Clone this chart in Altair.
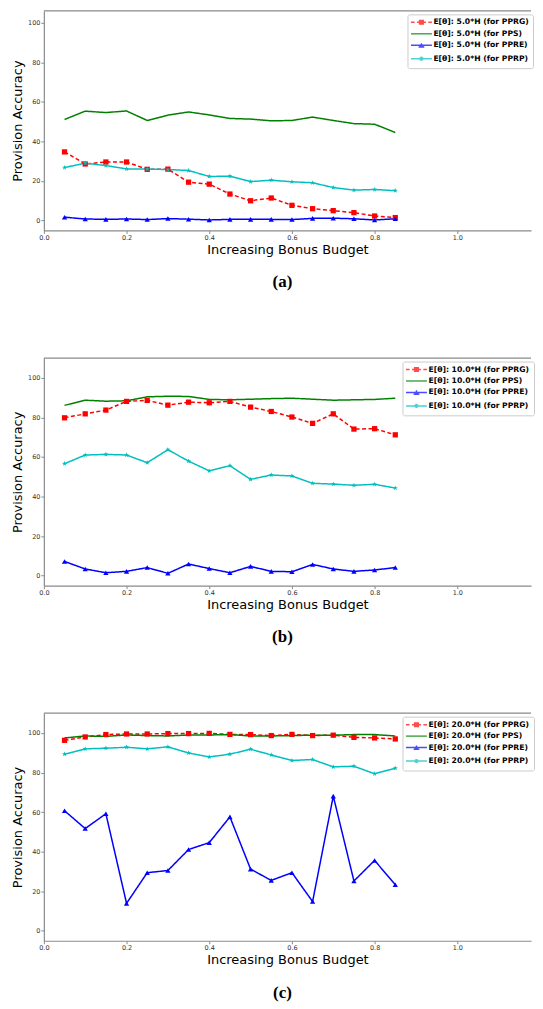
import altair as alt
import pandas as pd

# ---------------- data ----------------
budget = [0.05, 0.10, 0.15, 0.20, 0.25, 0.30, 0.35, 0.40, 0.45,
          0.50, 0.55, 0.60, 0.65, 0.70, 0.75, 0.80, 0.85]
series_names = ["PPRG", "PPS", "PPRE", "PPRP"]
multipliers = ["5.0", "10.0", "20.0"]
captions = ["(a)", "(b)", "(c)"]
x_ticks = [0.0, 0.2, 0.4, 0.6, 0.8, 1.0]
y_ticks = [0, 20, 40, 60, 80, 100]

a_pprg = [34.7, 28.6, 29.6, 29.6, 25.9, 26.0, 19.4, 18.4, 13.4, 10.0, 11.4, 7.7, 6.0, 5.0, 4.0, 2.3, 1.5]
a_pps = [51.1, 55.3, 54.6, 55.4, 50.6, 53.3, 54.9, 53.4, 51.6, 51.3, 50.4, 50.6, 52.3, 50.6, 49.0, 48.7, 44.5]
a_ppre = [1.7, 0.8, 0.6, 0.8, 0.5, 1.0, 0.7, 0.3, 0.6, 0.6, 0.6, 0.5, 1.1, 1.2, 0.9, 0.3, 0.9]
a_pprp = [26.8, 29.0, 27.8, 26.1, 26.0, 25.8, 25.3, 22.3, 22.4, 19.7, 20.4, 19.6, 19.1, 16.7, 15.4, 15.7, 15.1]

b_pprg = [79.8, 81.8, 83.7, 88.1, 88.6, 86.2, 87.7, 87.4, 88.1, 85.2, 83.0, 80.2, 77.0, 81.8, 74.1, 74.3, 71.2]
b_pps = [86.1, 88.7, 88.2, 88.4, 90.4, 90.7, 90.6, 89.1, 88.9, 89.2, 89.5, 89.7, 89.2, 88.7, 88.9, 89.1, 89.7]
b_ppre = [7.2, 3.4, 1.5, 2.2, 4.1, 1.2, 5.9, 3.6, 1.5, 4.7, 2.2, 2.0, 5.7, 3.4, 2.2, 2.9, 4.1]
b_pprp = [56.6, 61.0, 61.3, 61.0, 57.1, 63.7, 57.9, 53.0, 55.6, 48.7, 50.9, 50.4, 46.7, 46.3, 45.7, 46.2, 44.3]

c_pprg = [96.3, 98.0, 99.2, 99.5, 99.5, 99.7, 99.7, 99.8, 99.3, 99.2, 98.7, 99.3, 98.7, 98.9, 97.8, 97.5, 97.0]
c_pps = [97.5, 98.5, 98.3, 99.0, 98.7, 98.5, 99.0, 99.0, 99.2, 98.5, 98.5, 98.7, 98.9, 98.9, 99.2, 99.2, 98.5]
c_ppre = [60.7, 51.7, 59.2, 13.9, 29.4, 30.5, 41.1, 44.6, 57.6, 31.2, 25.5, 29.4, 14.8, 68.1, 25.2, 35.6, 23.3]
c_pprp = [89.3, 92.0, 92.3, 92.8, 92.0, 93.0, 89.9, 87.9, 89.3, 91.8, 88.9, 86.1, 86.6, 82.9, 83.2, 79.4, 82.2]

panel_values = [
    [a_pprg, a_pps, a_ppre, a_pprp],
    [b_pprg, b_pps, b_ppre, b_pprp],
    [c_pprg, c_pps, c_ppre, c_pprp],
]

# ---------------- styles ----------------
colors = ["#ff0000", "#008000", "#0000ff", "#00bfbf"]
dashes = [[4, 2.5], [1, 0], [1, 0], [1, 0]]
STAR = ("M0,-1L0.24,-0.33L0.95,-0.31L0.39,0.12L0.59,0.81L0,0.4"
        "L-0.59,0.81L-0.39,0.12L-0.95,-0.31L-0.24,-0.33Z")
point_shapes = ["square", "circle", "triangle-up", STAR]

# legend glyphs (line + marker) drawn as strokes, unit = sqrt(size)/2 px
SQ = "M1.15,-0.6H2.85M1.15,-0.2H2.85M1.15,0.2H2.85M1.15,0.6H2.85"
TRI = "M1.05,0.6H2.95M1.3,0.25H2.7M1.55,-0.1H2.45M1.8,-0.45H2.2"
AST = "M2,-0.7V0.7M1.4,-0.35L2.6,0.35M1.4,0.35L2.6,-0.35"
legend_paths = [
    "M-1.5,0H-0.3M0.5,0H3.5M4.3,0H5.5" + SQ,
    "M-1.5,0H5.5",
    "M-1.5,0H5.5" + TRI,
    "M-1.5,0H5.5" + AST,
]

GRAY = "#8a8a8a"
PX_PER_X = 415.0
W = 489
XMAX = W / PX_PER_X
PX_PER_Y = 1.986


def make_panel(idx, ymax, legend_x):
    mult = multipliers[idx]
    labels = [f"E[θ]: {mult}*H (for {s})" for s in series_names]
    rows = []
    for s, lab, vals in zip(series_names, labels, panel_values[idx]):
        for xv, yv in zip(budget, vals):
            rows.append({"x": xv, "y": yv, "series": s, "label": lab})
    df = pd.DataFrame(rows)
    height = round((ymax + 5) * PX_PER_Y, 1)

    xenc = alt.X("x:Q", scale=alt.Scale(domain=[0, XMAX], nice=False, zero=False),
                 axis=alt.Axis(values=x_ticks, format=".1f", title="Increasing Bonus Budget"))
    yenc = alt.Y("y:Q", scale=alt.Scale(domain=[-5, ymax], nice=False, zero=False),
                 axis=alt.Axis(values=y_ticks, format="d", title="Provision Accuracy"))

    base = alt.Chart(df)
    lines = base.mark_line(strokeWidth=1.5).encode(
        x=xenc, y=yenc,
        color=alt.Color("series:N", scale=alt.Scale(domain=series_names, range=colors), legend=None),
        strokeDash=alt.StrokeDash("series:N", scale=alt.Scale(domain=series_names, range=dashes), legend=None),
    )
    points = base.transform_filter("datum.series != 'PPS'").mark_point(
        filled=True, opacity=1, size=28).encode(
        x=xenc, y=yenc,
        color=alt.Color("series:N", scale=alt.Scale(domain=series_names, range=colors), legend=None),
        shape=alt.Shape("series:N", scale=alt.Scale(domain=series_names, range=point_shapes), legend=None),
    )
    leg = alt.Legend(
        title=None, orient="none", legendX=legend_x, legendY=3.5, direction="vertical",
        labelFont="DejaVu Sans", labelFontWeight="bold", labelFontSize=7.7, labelColor="black",
        symbolSize=36, symbolStrokeWidth=1.5, labelOffset=14, rowPadding=2.5, padding=4,
        strokeColor="#cccccc", fillColor="white", cornerRadius=2, labelLimit=300,
    )
    legend_layer = base.transform_filter("false").mark_point(filled=False).encode(
        color=alt.Color("label:N", scale=alt.Scale(domain=labels, range=colors), legend=leg),
        shape=alt.Shape("label:N", scale=alt.Scale(domain=labels, range=legend_paths), legend=leg),
    )
    top_rule = alt.Chart(alt.Data(values=[{}])).mark_rule(color=GRAY, strokeWidth=1.2).encode(
        x=alt.value(0), x2=alt.value(W), y=alt.value(0))

    return alt.layer(top_rule, lines, points, legend_layer).resolve_scale(
        color="independent", shape="independent", strokeDash="independent"
    ).properties(
        width=W, height=height,
        title=alt.TitleParams(captions[idx], orient="bottom", font="Liberation Serif",
                              fontSize=17, fontWeight="bold", anchor="middle", dx=-5,
                              offset=18, color="black"),
    )


pa = make_panel(0, 106, 365)
pb = make_panel(1, 110, 360)
pc = make_panel(2, 110, 360)

chart = alt.vconcat(pa, pb, pc, spacing=66.5).properties(
    padding={"left": 3, "top": 0, "right": 0, "bottom": 0}
).configure_view(stroke=None).configure_axis(
    domainColor=GRAY, domainWidth=1.2, tickColor=GRAY, tickSize=3, tickWidth=1,
    labelFont="DejaVu Sans", labelFontSize=6.5, labelColor="#333333", labelPadding=1,
    labelFlush=False,
    titleFont="DejaVu Sans", titleFontSize=13, titleFontWeight="normal", titleColor="black",
    grid=False,
).configure_axisX(titlePadding=2.5).configure_axisY(titlePadding=3)

chart.save("out.html", embed_options={"renderer": "svg", "actions": False})
